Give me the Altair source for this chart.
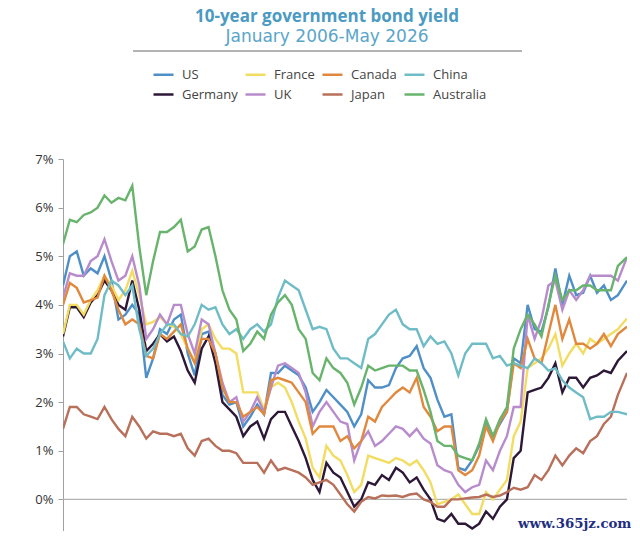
import altair as alt
import pandas as pd

# ---- data (quarterly readings, % yield) ----
dates = [f"{y}-{m:02d}-01" for y in range(2006, 2026) for m in (1, 4, 7, 10)] + ["2026-01-01", "2026-05-01"]

us = [
    4.40, 5.00, 5.10, 4.60,  4.75, 4.65, 5.00, 4.50,  3.70, 3.80, 4.00, 3.80,
    2.50, 2.90, 3.50, 3.40,  3.70, 3.80, 3.00, 2.55,  3.40, 3.45, 3.00, 2.15,
    1.95, 2.00, 1.50, 1.70,  1.95, 1.75, 2.60, 2.60,  2.75, 2.65, 2.55, 2.30,
    1.80, 2.00, 2.25, 2.10,  1.95, 1.80, 1.50, 1.75,  2.45, 2.30, 2.30, 2.35,
    2.70, 2.90, 2.95, 3.15,  2.70, 2.50, 2.05, 1.70,  1.75, 0.65, 0.60, 0.80,
    1.10, 1.60, 1.30, 1.55,  1.80, 2.90, 2.80, 4.00,  3.50, 3.45, 3.95, 4.75,
    4.00, 4.60, 4.20, 4.25,  4.60, 4.25, 4.40, 4.10,  4.20, 4.50,
]
germany = [
    3.35, 3.95, 3.95, 3.75,  4.05, 4.20, 4.50, 4.30,  4.00, 3.90, 4.50, 3.90,
    3.05, 3.20, 3.40, 3.25,  3.35, 3.05, 2.65, 2.40,  3.10, 3.35, 2.80, 2.00,
    1.85, 1.70, 1.30, 1.50,  1.60, 1.25, 1.65, 1.80,  1.80, 1.50, 1.20, 0.85,
    0.40, 0.15, 0.75, 0.55,  0.45, 0.15, -0.15, 0.00,  0.35, 0.30, 0.50, 0.40,
    0.65, 0.55, 0.35, 0.45,  0.20, 0.00, -0.40, -0.45,  -0.30, -0.50, -0.50, -0.60,
    -0.50, -0.25, -0.40, -0.15,  0.00, 0.85, 1.00, 2.20,  2.25, 2.30, 2.50, 2.80,
    2.20, 2.50, 2.50, 2.30,  2.50, 2.55, 2.65, 2.60,  2.85, 3.05,
]
france = [
    3.40, 4.00, 4.00, 3.80,  4.10, 4.30, 4.60, 4.40,  4.10, 4.30, 4.70, 4.20,
    3.60, 3.65, 3.75, 3.60,  3.55, 3.40, 3.10, 2.85,  3.50, 3.60, 3.30, 3.10,
    3.10, 3.00, 2.20, 2.20,  2.20, 1.85, 2.30, 2.40,  2.30, 2.00, 1.60, 1.25,
    0.65, 0.45, 1.10, 0.90,  0.80, 0.50, 0.15, 0.30,  0.90, 0.85, 0.80, 0.75,
    0.85, 0.80, 0.70, 0.80,  0.60, 0.35, -0.10, -0.05,  0.00, 0.10, -0.10, -0.30,
    -0.30, 0.15, 0.00, 0.20,  0.40, 1.30, 1.60, 2.70,  2.80, 2.90, 3.10, 3.40,
    2.75, 3.00, 3.20, 3.00,  3.30, 3.20, 3.30, 3.40,  3.50, 3.72,
]
uk = [
    4.15, 4.65, 4.60, 4.60,  4.90, 5.00, 5.35, 4.90,  4.50, 4.60, 5.00, 4.40,
    3.30, 3.50, 3.80, 3.60,  4.00, 4.00, 3.40, 3.00,  3.70, 3.60, 3.00, 2.40,
    2.00, 2.10, 1.60, 1.80,  2.10, 1.80, 2.30, 2.75,  2.80, 2.70, 2.60, 2.20,
    1.50, 1.80, 2.00, 1.80,  1.60, 1.55, 0.80, 1.20,  1.40, 1.10, 1.20, 1.35,
    1.50, 1.45, 1.30, 1.45,  1.25, 1.15, 0.70, 0.60,  0.55, 0.30, 0.15, 0.25,
    0.30, 0.80, 0.60, 1.00,  1.30, 1.90, 1.90, 3.80,  3.30, 3.70, 4.40, 4.50,
    3.90, 4.30, 4.10, 4.30,  4.60, 4.60, 4.60, 4.60,  4.50, 4.98,
]
canada = [
    4.00, 4.45, 4.35, 4.05,  4.10, 4.15, 4.60, 4.30,  3.90, 3.60, 3.70, 3.60,
    2.95, 2.90, 3.40, 3.30,  3.45, 3.60, 3.10, 2.80,  3.30, 3.30, 3.00, 2.30,
    2.00, 2.00, 1.70, 1.80,  1.90, 1.75, 2.45, 2.50,  2.45, 2.40, 2.20, 2.00,
    1.35, 1.50, 1.50, 1.50,  1.20, 1.30, 1.05, 1.20,  1.70, 1.60, 1.90, 2.05,
    2.20, 2.30, 2.20, 2.50,  1.90, 1.70, 1.40, 1.50,  1.50, 0.60, 0.50, 0.60,
    0.90, 1.50, 1.20, 1.60,  1.80, 2.80, 2.70, 3.30,  2.90, 2.80, 3.40, 4.00,
    3.30, 3.70, 3.20, 3.20,  3.10, 3.20, 3.40, 3.15,  3.40, 3.55,
]
japan = [
    1.45, 1.90, 1.90, 1.75,  1.70, 1.65, 1.90, 1.65,  1.45, 1.30, 1.70, 1.50,
    1.25, 1.40, 1.35, 1.35,  1.30, 1.35, 1.05, 0.90,  1.20, 1.25, 1.10, 1.00,
    1.00, 0.95, 0.75, 0.75,  0.75, 0.55, 0.80, 0.60,  0.65, 0.60, 0.55, 0.45,
    0.30, 0.35, 0.40, 0.30,  0.10, -0.10, -0.25, -0.05,  0.05, 0.02, 0.08, 0.07,
    0.08, 0.05, 0.10, 0.12,  0.00, -0.05, -0.15, -0.15,  0.00, 0.00, 0.02, 0.04,
    0.05, 0.10, 0.05, 0.08,  0.15, 0.24, 0.20, 0.25,  0.50, 0.40, 0.60, 0.90,
    0.70, 0.90, 1.05, 0.95,  1.20, 1.30, 1.55, 1.70,  2.15, 2.60,
]
china = [
    3.25, 2.90, 3.10, 3.00,  3.00, 3.30, 4.20, 4.50,  4.40, 4.20, 4.40, 3.50,
    2.95, 3.10, 3.40, 3.60,  3.60, 3.40, 3.35, 3.60,  4.00, 3.90, 3.95, 3.60,
    3.40, 3.50, 3.30, 3.50,  3.60, 3.45, 3.60, 4.15,  4.50, 4.40, 4.30, 3.90,
    3.50, 3.55, 3.50, 3.10,  2.90, 2.90, 2.80, 2.70,  3.30, 3.40, 3.60, 3.80,
    3.90, 3.60, 3.50, 3.50,  3.15, 3.35, 3.20, 3.25,  3.00, 2.55, 3.00, 3.20,
    3.20, 3.20, 2.90, 2.95,  2.75, 2.80, 2.75, 2.70,  2.90, 2.80, 2.65, 2.70,
    2.45, 2.30, 2.20, 2.10,  1.65, 1.70, 1.70, 1.80,  1.80, 1.75,
]
australia = [
    5.25, 5.75, 5.70, 5.85,  5.90, 6.00, 6.25, 6.10,  6.20, 6.15, 6.45, 5.20,
    4.20, 4.90, 5.50, 5.50,  5.60, 5.75, 5.10, 5.20,  5.55, 5.60, 5.00, 4.30,
    3.90, 3.70, 3.05, 3.20,  3.45, 3.30, 3.80, 4.05,  4.20, 4.00, 3.50, 3.30,
    2.60, 2.45, 2.90, 2.70,  2.60, 2.40, 1.95, 2.30,  2.75, 2.65, 2.70, 2.75,
    2.75, 2.75, 2.65, 2.65,  2.25, 1.80, 1.20, 1.10,  1.10, 0.90, 0.85, 0.80,
    1.15, 1.65, 1.30, 1.65,  1.90, 3.10, 3.50, 3.80,  3.60, 3.35, 4.00, 4.60,
    4.10, 4.30, 4.30, 4.40,  4.40, 4.30, 4.30, 4.30,  4.80, 4.98,
]

# legend fills column by column (2 rows x 4 columns)
countries = ["US", "Germany", "France", "UK", "Canada", "Japan", "China", "Australia"]
colors = ["#4f8fc7", "#2d1838", "#f3dc62", "#b88ccc", "#e0893e", "#b8705a", "#6fbcc6", "#68b46c"]
series = {"US": us, "Germany": germany, "France": france, "UK": uk,
          "Canada": canada, "Japan": japan, "China": china, "Australia": australia}

title_text = "10-year government bond yield"
subtitle_text = "January 2006-May 2026"
watermark_text = "www.365jz.com"
y_ticks = [0, 1, 2, 3, 4, 5, 6, 7]

rows = []
for name, vals in series.items():
    for d, v in zip(dates, vals):
        rows.append({"date": d, "country": name, "yield": v})
df = pd.DataFrame(rows)

W, H = 564, 372

x_enc = alt.X("date:T", scale=alt.Scale(domain=["2006-01-01", "2026-05-01"]), axis=None)
y_scale = alt.Scale(domain=[-0.65, 7], nice=False, zero=False)

zero = alt.Chart(pd.DataFrame({"z": [0]})).mark_rule(color="#b3b3b3", strokeWidth=1.2).encode(
    y=alt.Y("z:Q", scale=y_scale,
            axis=alt.Axis(values=y_ticks, labelExpr="datum.value + '%'", title=None,
                          domainColor="#a0a0a0", tickColor="#a0a0a0", tickSize=5,
                          labelColor="#333333", labelFont="Open Sans", labelFontSize=13,
                          labelPadding=5, grid=False))
)

lines = alt.Chart(df).mark_line(strokeWidth=2.4, clip=True).encode(
    x=x_enc,
    y=alt.Y("yield:Q", scale=y_scale),
    color=alt.Color("country:N",
                    scale=alt.Scale(domain=countries, range=colors),
                    legend=alt.Legend(orient="none", legendX=89, legendY=-96, columns=4,
                                      symbolType="stroke", symbolSize=400, symbolStrokeWidth=2.5,
                                      labelFont="Open Sans", labelFontSize=13, labelColor="#444444",
                                      labelOffset=7, columnPadding=2, rowPadding=1,
                                      title=None, padding=0)),
    detail="country:N",
)

title1 = alt.Chart(pd.DataFrame({"t": [title_text]})).mark_text(
    font="Open Sans", fontSize=17, fontWeight="bold", color="#4a9ac2", align="center", baseline="alphabetic"
).encode(text="t:N", x=alt.value(264), y=alt.value(-137))

title2 = alt.Chart(pd.DataFrame({"t": [subtitle_text]})).mark_text(
    font="DejaVu Sans", fontSize=17, color="#5aa5c9", align="center", baseline="alphabetic"
).encode(text="t:N", x=alt.value(264), y=alt.value(-117))

sep = alt.Chart(pd.DataFrame({"t": [0]})).mark_rule(color="#9a9a9a", strokeWidth=1.5).encode(
    x=alt.value(70), x2=alt.value(459), y=alt.value(-108)
)

mark = alt.Chart(pd.DataFrame({"t": [watermark_text]})).mark_text(
    font="DejaVu Serif", fontSize=13.3, fontWeight="bold", color="#1f2f80", align="left", baseline="alphabetic"
).encode(text="t:N", x=alt.value(455), y=alt.value(369))

chart = alt.layer(zero, lines, title1, title2, sep, mark).properties(
    width=W, height=H,
    autosize=alt.AutoSizeParams(type="none"),
    padding={"left": 55, "top": 151, "right": 4, "bottom": 0},
    background="white",
).configure_view(stroke=None)

chart.save("out.html", embed_options={"renderer": "svg", "actions": False})
